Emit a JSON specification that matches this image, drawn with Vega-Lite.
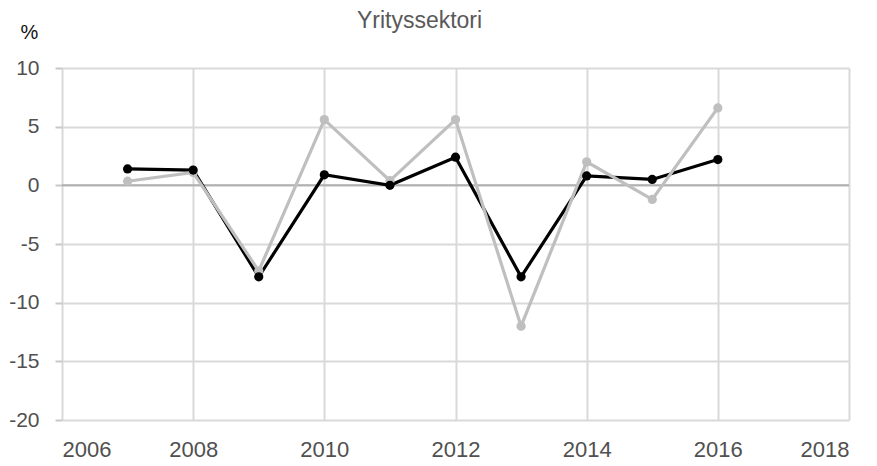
{
  "$schema": "https://vega.github.io/schema/vega-lite/v6.json",
  "autosize": "none",
  "width": 787,
  "height": 352,
  "padding": {"left": 62, "top": 68, "right": 28, "bottom": 46},
  "background": "white",
  "title": {
    "text": "Yrityssektori",
    "anchor": "middle",
    "offset": -23,
    "dx": -36,
    "dy": 5.5,
    "baseline": "alphabetic",
    "fontSize": 23,
    "fontWeight": "normal",
    "font": "Liberation Sans",
    "color": "#595959"
  },
  "config": {
    "view": {"stroke": null},
    "font": "Liberation Sans"
  },
  "data": {
    "values": [
      {"year": 2007, "series": "A", "value": 1.4},
      {"year": 2008, "series": "A", "value": 1.3},
      {"year": 2009, "series": "A", "value": -7.8},
      {"year": 2010, "series": "A", "value": 0.9},
      {"year": 2011, "series": "A", "value": 0.0},
      {"year": 2012, "series": "A", "value": 2.4},
      {"year": 2013, "series": "A", "value": -7.8},
      {"year": 2014, "series": "A", "value": 0.8},
      {"year": 2015, "series": "A", "value": 0.5},
      {"year": 2016, "series": "A", "value": 2.2},
      {"year": 2007, "series": "B", "value": 0.35},
      {"year": 2008, "series": "B", "value": 1.1},
      {"year": 2009, "series": "B", "value": -7.3},
      {"year": 2010, "series": "B", "value": 5.6},
      {"year": 2011, "series": "B", "value": 0.4},
      {"year": 2012, "series": "B", "value": 5.6},
      {"year": 2013, "series": "B", "value": -12.0},
      {"year": 2014, "series": "B", "value": 2.0},
      {"year": 2015, "series": "B", "value": -1.2},
      {"year": 2016, "series": "B", "value": 6.6}
    ]
  },
  "layer": [
    {
      "data": {"values": [{"z": 0}]},
      "mark": {"type": "rule", "color": "#b0b0b0", "strokeWidth": 2},
      "encoding": {"y": {"field": "z", "type": "quantitative", "scale": {"domain": [-20, 10]}}}
    },
    {
      "mark": {"type": "line", "strokeWidth": 3.2, "point": {"filled": true, "size": 85}},
      "encoding": {
        "x": {
          "field": "year", "type": "quantitative",
          "scale": {"domain": [2006, 2018], "nice": false, "zero": false},
          "axis": {
            "values": [2006, 2008, 2010, 2012, 2014, 2016, 2018],
            "format": "d", "title": null, "ticks": false, "domain": false,
            "grid": true, "gridColor": "#d9d9d9", "gridWidth": 2,
            "labelFontSize": 22, "labelColor": "#505050", "labelPadding": 19
          }
        },
        "y": {
          "field": "value", "type": "quantitative",
          "scale": {"domain": [-20, 10], "nice": false},
          "axis": {
            "values": [-20, -15, -10, -5, 0, 5, 10],
            "labelExpr": "'' + datum.value",
            "title": "%", "titleAngle": 0, "titleX": -33, "titleY": -35.5,
            "titleFontSize": 20, "titleFontWeight": "normal", "titleColor": "#111111",
            "titleAlign": "center", "titleBaseline": "middle",
            "domain": false, "ticks": true, "tickColor": "#c8c8c8", "tickSize": 7, "tickWidth": 2,
            "grid": true, "gridColor": "#d9d9d9", "gridWidth": 2,
            "labelFontSize": 21, "labelColor": "#505050", "labelPadding": 16
          }
        },
        "color": {
          "field": "series", "type": "nominal",
          "scale": {"domain": ["B", "A"], "range": ["#bfbfbf", "#000000"]},
          "legend": null
        },
        "order": {"field": "series", "type": "nominal", "sort": "descending"}
      }
    }
  ]
}
